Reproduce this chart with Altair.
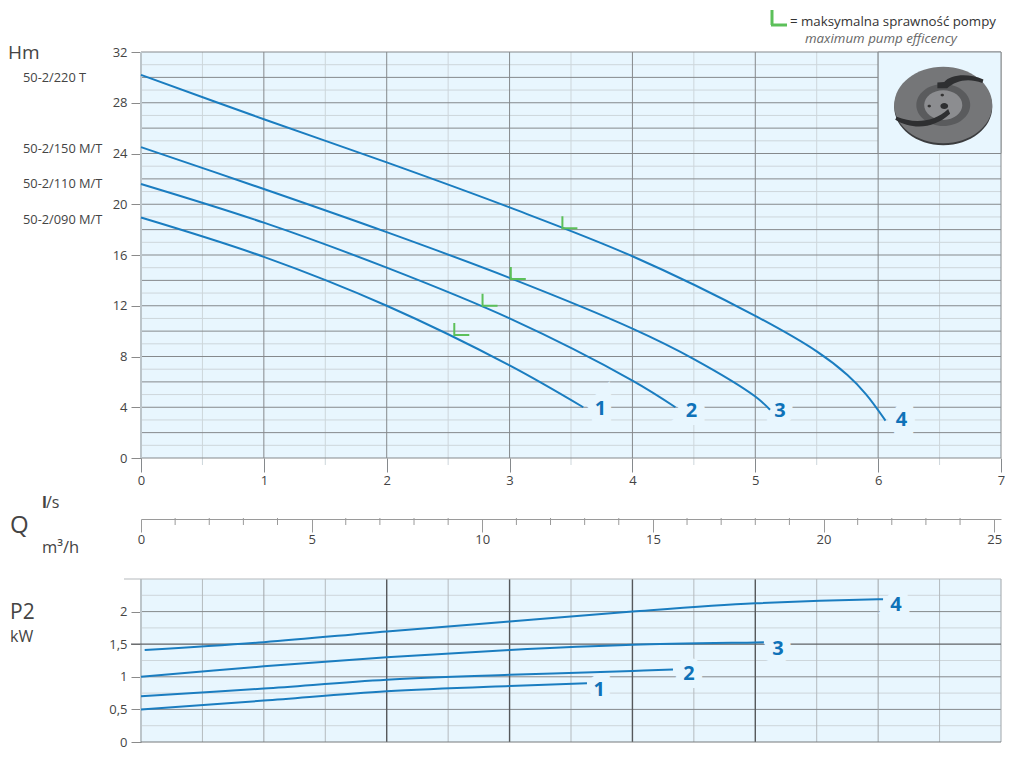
"""Pump performance curves, H(Q) and P2(Q)"""

import altair as alt
import pandas as pd

FONT = "Open Sans"
BLUE = "#1a7dc0"
GREEN = "#5cc05a"
PANEL = "#e8f6fe"
DARK = "#85898c"
LIGHT = "#cdd6db"
TEXT = "#444444"

# head curves: flow in l/s, head in m
h1_q = [0, 1, 2, 3, 3.6]
h1_h = [18.95, 15.85, 12.0, 7.3, 4.0]
h2_q = [0, 1, 2, 3, 4, 4.35]
h2_h = [21.6, 18.55, 15.0, 11.0, 6.1, 4.0]
h3_q = [0, 1, 2, 3, 4, 4.5, 5, 5.12]
h3_h = [24.5, 21.2, 17.8, 14.2, 10.2, 7.8, 4.85, 3.8]
h4_q = [0, 1, 2, 3, 4, 5, 5.5, 5.75, 5.9, 6.06]
h4_h = [30.2, 26.7, 23.3, 19.75, 15.9, 11.2, 8.4, 6.54, 5.04, 2.95]

# power curves: flow in l/s, P2 in kW
p1_q = [0, 1, 2, 3, 3.63]
p1_p = [0.5, 0.635, 0.778, 0.86, 0.9]
p2_q = [0, 1, 2, 3, 4, 4.33]
p2_p = [0.7, 0.82, 0.955, 1.03, 1.09, 1.113]
p3_q = [0, 1, 2, 3, 4, 5, 5.07]
p3_p = [1.0, 1.16, 1.3, 1.41, 1.49, 1.527, 1.53]
p4_q = [0.03, 1, 2, 3, 4, 5, 6, 6.04]
p4_p = [1.41, 1.53, 1.695, 1.85, 2.0, 2.127, 2.19, 2.19]

# best efficiency points
best_q = [2.55, 2.78, 3.01, 3.43]
best_h = [9.7, 12.0, 14.1, 18.1]

# curve numbers
curve_names = ["1", "2", "3", "4"]
head_label_q = [3.74, 4.48, 5.2, 6.19]
head_label_h = [3.85, 3.7, 3.7, 3.0]
power_label_q = [3.73, 4.46, 5.185, 6.145]
power_label_p = [0.8, 1.05, 1.42, 2.107]

model_names = ["50-2/220 T", "50-2/150 M/T", "50-2/110 M/T", "50-2/090 M/T"]

W = 860
Q_MAX = 7
H_MAX = 32
P_MAX = 2.5
M3H_MAX = 25.2

q_major = list(range(0, 8))
q_minor = [0.5, 1.5, 2.5, 3.5, 4.5, 5.5, 6.5]
h_ticks = [0, 4, 8, 12, 16, 20, 24, 28, 32]
h_major = list(range(0, 33, 2))
h_minor = list(range(1, 33, 2))
p_ticks = [0, 0.5, 1, 1.5, 2]
p_major = [0.5, 1, 2]
p_minor = [0.25, 0.75, 1.25, 1.75, 2.25]
m3h_major = [0, 5, 10, 15, 20, 25]
m3h_minor = [v for v in range(0, 26) if v % 5]

x_q = alt.X("q:Q", scale=alt.Scale(domain=[0, Q_MAX], nice=False), title=None)

ELLIPSE = "M-1,0A1,0.78 0 1,0 1,0A1,0.78 0 1,0 -1,0Z"
L_SHAPE = "M0,-0.8L0,0L1,0"
BLADE_A = "M-0.12,-0.46L0.02,-0.47C0.15,-0.62 0.5,-0.66 0.82,-0.52L0.8,-0.45C0.5,-0.56 0.25,-0.5 0.08,-0.34L-0.12,-0.34Z"
BLADE_B = "M-0.98,0.3C-0.65,0.5 -0.2,0.5 0.14,0.18L0.1,0.08C-0.2,0.36 -0.6,0.38 -0.95,0.24Z"


def rules(values, channel, color, width=1):
    """Straight grid lines at the given data values."""
    df = pd.DataFrame({"v": values})
    return alt.Chart(df).mark_rule(color=color, strokeWidth=width).encode(
        **{channel: alt.X("v:Q") if channel == "x" else alt.Y("v:Q")}
    )


def curves(series, value_name):
    rows = []
    for name, q_vals, v_vals in series:
        rows += [{"curve": name, "q": q, value_name: v} for q, v in zip(q_vals, v_vals)]
    return pd.DataFrame(rows)


def curve_labels(q_vals, v_vals, value_name, y_enc):
    """Returns the blanking halo and the number as two layers."""
    df = pd.DataFrame({"curve": curve_names, "q": q_vals, value_name: v_vals})
    halo = alt.Chart(df).mark_text(
        font=FONT, fontSize=20, fontWeight="bold", stroke=PANEL, strokeWidth=16, color=PANEL
    ).encode(x=x_q, y=y_enc, text="curve:N")
    label = alt.Chart(df).mark_text(
        font=FONT, fontSize=20, fontWeight="bold", color="#0f72b8"
    ).encode(x=x_q, y=y_enc, text="curve:N")
    return halo, label


def free_text(text, x, y, size=12, color=TEXT, **kwargs):
    """Text placed in pixels relative to the panel origin."""
    return alt.Chart(pd.DataFrame({"t": [text]})).mark_text(
        font=FONT, fontSize=size, color=color, align="left", baseline="middle", **kwargs
    ).encode(x=alt.value(x), y=alt.value(y), text="t:N")


def impeller(y_enc):
    """Small drawing of the impeller, top right of the head panel."""
    at = pd.DataFrame({"q": [6.53], "h": [27.82]})

    def part(shape, size, color, dx=0, dy=0):
        return alt.Chart(at).mark_point(
            shape=shape, filled=True, fill=color, opacity=1, size=size, xOffset=dx, yOffset=dy
        ).encode(x=x_q, y=y_enc)

    return alt.layer(
        part(ELLIPSE, 9604, "#3b3c3e", 0, 2),
        part(ELLIPSE, 9604, "#757678"),
        part(ELLIPSE, 2900, "#5a5b5d"),
        part(ELLIPSE, 1450, "#8c8d90"),
        part(ELLIPSE, 60, "#2e2f31", 1, 1),
        part(ELLIPSE, 12, "#333333", -14, 1),
        part(ELLIPSE, 12, "#333333", -1, -10),
        part(BLADE_A, 9604, "#2e2f31"),
        part(BLADE_B, 9604, "#2e2f31"),
    )


def build_head_panel():
    y_h = alt.Y(
        "h:Q",
        scale=alt.Scale(domain=[0, H_MAX], nice=False),
        title=None,
        axis=alt.Axis(
            values=h_ticks, grid=False, domain=False, tickColor="#8a8a8a", tickSize=10,
            labelFont=FONT, labelFontSize=13, labelColor=TEXT, labelPadding=4,
        ),
    )
    x_axis = alt.X(
        "q:Q",
        scale=alt.Scale(domain=[0, Q_MAX], nice=False),
        title=None,
        axis=alt.Axis(
            values=q_major, grid=False, domain=False, format="d", tickColor=DARK, tickSize=14,
            labelFlush=False, labelFont=FONT, labelFontSize=13, labelColor=TEXT, labelPadding=2,
        ),
    )
    df = curves(
        [("1", h1_q, h1_h), ("2", h2_q, h2_h), ("3", h3_q, h3_h), ("4", h4_q, h4_h)], "h"
    )
    box = pd.DataFrame({"q": [6], "q2": [7], "h": [24], "h2": [32]})
    background = alt.Chart(pd.DataFrame({"q": [0], "q2": [7], "h": [0], "h2": [32]})).mark_rect(
        color=PANEL
    ).encode(x=x_q, x2="q2:Q", y=alt.Y("h:Q"), y2="h2:Q")
    image_box = alt.Chart(box).mark_rect(fill=PANEL, stroke=DARK, strokeWidth=1).encode(
        x=x_q, x2="q2:Q", y=alt.Y("h:Q"), y2="h2:Q"
    )
    lines = alt.Chart(df).mark_line(
        color=BLUE, strokeWidth=2, interpolate="catmull-rom"
    ).encode(x=x_axis, y=y_h, detail="curve:N")
    best = alt.Chart(pd.DataFrame({"q": best_q, "h": best_h})).mark_point(
        shape=L_SHAPE, size=900, filled=False, stroke=GREEN, strokeWidth=2, opacity=1
    ).encode(x=x_q, y=alt.Y("h:Q"))
    # half-step ticks under the panel
    half_ticks = alt.Chart(pd.DataFrame({"q": q_minor})).mark_rule(color=LIGHT).encode(
        x=x_q, y=alt.value(406), y2=alt.value(413)
    )
    halo, label = curve_labels(head_label_q, head_label_h, "h", alt.Y("h:Q"))

    texts = [
        free_text("Hm", -133, 1, size=19),
        free_text(model_names[0], -118, 26, size=12.8),
        free_text(model_names[1], -118, 97, size=12.8),
        free_text(model_names[2], -118, 132, size=12.8),
        free_text(model_names[3], -118, 168, size=12.8),
        free_text("= maksymalna sprawność pompy", 649, -30, size=13.3, color="#333333"),
        free_text("maximum pump efficency", 664, -13, size=13.3, color="#666666", fontStyle="italic"),
    ]
    key_v = alt.Chart(pd.DataFrame({"k": [0]})).mark_rule(color=GREEN, strokeWidth=3).encode(
        x=alt.value(631), y=alt.value(-42), y2=alt.value(-27)
    )
    key_h = alt.Chart(pd.DataFrame({"k": [0]})).mark_rule(color=GREEN, strokeWidth=3).encode(
        x=alt.value(630), x2=alt.value(646), y=alt.value(-27)
    )

    return alt.layer(
        background,
        half_ticks,
        rules(h_minor, "y", LIGHT),
        rules(q_minor, "x", LIGHT),
        rules(h_major, "y", DARK),
        rules(q_major, "x", DARK),
        rules([0], "x", "#bcc5ca", 2),
        image_box,
        impeller(alt.Y("h:Q")),
        halo,
        lines,
        best,
        label,
        key_v,
        key_h,
        *texts,
    ).resolve_scale(x="shared", y="shared").properties(width=W, height=406)


def build_flow_axis():
    """The m3/h scale that sits between the two panels."""
    x_m3h = alt.X(
        "v:Q",
        scale=alt.Scale(domain=[0, M3H_MAX], nice=False),
        title=None,
        axis=alt.Axis(
            values=m3h_major, grid=False, domainColor="#9a9a9a", tickColor="#9a9a9a", tickSize=13,
            labelFlush=False, labelFont=FONT, labelFontSize=13, labelColor=TEXT, labelPadding=1,
        ),
    )
    minor = alt.Chart(pd.DataFrame({"v": m3h_minor})).mark_rule(color="#9a9a9a").encode(
        x=x_m3h, y=alt.value(0), y2=alt.value(7)
    )
    texts = [
        free_text("Q", -131, 8, size=24),
        free_text("l", -99, -15, size=16, fontWeight="bold"),
        free_text("/s", -95, -15, size=16),
        free_text("m³/h", -99, 30, size=16.5),
    ]
    return alt.layer(minor, *texts).properties(width=W, height=1)


def build_power_panel():
    y_p = alt.Y(
        "p:Q",
        scale=alt.Scale(domain=[0, P_MAX], nice=False),
        title=None,
        axis=alt.Axis(
            values=p_ticks, grid=False, domain=False, tickColor="#8a8a8a", tickSize=10,
            labelFont=FONT, labelFontSize=13, labelColor=TEXT, labelPadding=4,
            labelExpr="replace(format(datum.value, '.1~f'), '.', ',')",
        ),
    )
    x_axis = alt.X(
        "q:Q", scale=alt.Scale(domain=[0, Q_MAX], nice=False), title=None,
        axis=alt.Axis(labels=False, ticks=False, domain=False, grid=False),
    )
    df = curves(
        [("1", p1_q, p1_p), ("2", p2_q, p2_p), ("3", p3_q, p3_p), ("4", p4_q, p4_p)], "p"
    )
    background = alt.Chart(pd.DataFrame({"q": [0], "q2": [7], "p": [0], "p2": [P_MAX]})).mark_rect(
        color=PANEL
    ).encode(x=x_q, x2="q2:Q", y=alt.Y("p:Q"), y2="p2:Q")
    lines = alt.Chart(df).mark_line(
        color=BLUE, strokeWidth=2, interpolate="catmull-rom"
    ).encode(x=x_axis, y=y_p, detail="curve:N")
    top_line = alt.Chart(pd.DataFrame({"p": [P_MAX]})).mark_rule(color="#b5b9bc").encode(
        x=alt.value(-17), x2=alt.value(W), y=alt.Y("p:Q")
    )
    wide_line = alt.Chart(pd.DataFrame({"p": [1.5]})).mark_rule(color="#606366", strokeWidth=1.2).encode(
        x=alt.value(-10), x2=alt.value(W), y=alt.Y("p:Q")
    )
    halo, label = curve_labels(power_label_q, power_label_p, "p", alt.Y("p:Q"))
    texts = [
        free_text("P2", -131, 34, size=21),
        free_text("kW", -131, 58, size=16),
    ]
    return alt.layer(
        background,
        rules(p_minor, "y", LIGHT),
        rules(q_minor, "x", "#b4babe"),
        rules(p_major, "y", DARK),
        rules([1, 6, 7], "x", "#a0a5a9"),
        rules([0], "x", "#bcc5ca", 2),
        rules([2, 3, 4, 5], "x", "#55585b", 1.4),
        rules([0], "y", "#777a7d"),
        top_line,
        wide_line,
        halo,
        lines,
        label,
        *texts,
    ).properties(width=W, height=163)


chart = alt.vconcat(
    build_head_panel(),
    build_flow_axis(),
    build_power_panel(),
    spacing=60,
    bounds="flush",
).properties(
    padding={"left": 0, "top": 0, "right": 0, "bottom": 12}, background="white"
).configure_view(stroke=None)

chart.save("out.html", embed_options={"renderer": "svg", "actions": False})
